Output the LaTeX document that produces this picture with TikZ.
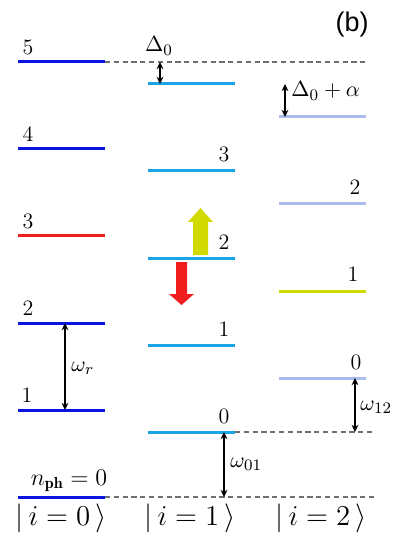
\documentclass[tikz,border=0pt]{standalone}
\usepackage{fontspec}
\newfontfamily\labfont{Liberation Sans}
\usetikzlibrary{arrows.meta}
\definecolor{dblue}{RGB}{10,20,225}
\definecolor{lblue}{RGB}{25,165,230}
\definecolor{lav}{RGB}{170,188,238}
\definecolor{lred}{RGB}{240,30,30}
\definecolor{lyel}{RGB}{208,218,0}
\definecolor{dgrey}{RGB}{110,110,110}
\tikzset{
  level/.style={line width=1.5pt},
  guide/.style={dgrey,line width=0.8pt,dash pattern=on 2.6pt off 1.8pt},
  gap/.style={{Stealth[length=3.6pt,width=3.4pt]}-{Stealth[length=3.6pt,width=3.4pt]},line width=0.55pt},
  num/.style={font=\fontsize{11}{13}\selectfont,inner sep=0pt},
  ket/.style={font=\fontsize{15}{17}\selectfont,inner sep=0pt},
}
\begin{document}
\begin{tikzpicture}[x=0.5pt,y=-0.5pt]
\useasboundingbox (0,0) rectangle (394,539);
% column 0
\foreach \k/\y/\c in {0/497/dblue,1/410/dblue,2/323/dblue,3/236/lred,4/149/dblue,5/62/dblue}{
  \coordinate (a\k L) at (18,\y); \coordinate (a\k R) at (105,\y);
  \draw[level,\c] (a\k L) -- (a\k R);
}
% column 1
\foreach \k/\y in {0/432,1/345,2/258,3/171,4/84}{
  \coordinate (b\k L) at (148,\y); \coordinate (b\k R) at (235,\y);
  \draw[level,lblue] (b\k L) -- (b\k R);
}
% column 2
\foreach \k/\y/\c in {0/378/lav,1/291/lyel,2/204/lav,3/117/lav}{
  \coordinate (c\k L) at (279,\y); \coordinate (c\k R) at (366,\y);
  \draw[level,\c] (c\k L) -- (c\k R);
}
% dashed guides
\coordinate (g5) at (367,62);
\coordinate (g1) at (375,432);
\coordinate (g0) at (377,497);
\draw[guide] (a5R) -- (g5);
\draw[guide] (b0R) -- (g1);
\draw[guide] (a0R) -- (g0);
% level labels
\node[num] (l5) at (28,47) {5};
\node[num] (l4) at (28,134) {4};
\node[num] (l3) at (28,221) {3};
\node[num] (l2) at (28,308) {2};
\node[num] (l1) at (27,395) {1};
\node[num,font=\fontsize{12}{14}\selectfont] (l0) at (69,481) {$n_{\mathbf{ph}}=0$};
\node[num] (m3) at (224,154) {3};
\node[num] (m2) at (224,242) {2};
\node[num] (m1) at (224,329) {1};
\node[num] (m0) at (224,416) {0};
\node[num] (r2) at (355,187) {2};
\node[num] (r1) at (353,274) {1};
\node[num] (r0) at (356,362) {0};
% gap arrows
\coordinate (wr1) at (65,323); \coordinate (wr2) at (65,410);
\draw[gap] (wr1) -- (wr2);
\node[num,anchor=west] (wrl) at (71,368) {$\omega_r$};
\coordinate (d1) at (160,62); \coordinate (d2) at (160,84);
\draw[gap] (d1) -- (d2);
\node[num] (dl) at (159,46) {$\Delta_0$};
\coordinate (da1) at (285,84); \coordinate (da2) at (285,117);
\draw[gap] (da1) -- (da2);
\node[num,anchor=west] (dal) at (291,91) {$\Delta_0+\alpha$};
\coordinate (w121) at (355,378); \coordinate (w122) at (355,432);
\draw[gap] (w121) -- (w122);
\node[num,anchor=west] (w12l) at (360,407) {$\omega_{12}$};
\coordinate (w011) at (224,432); \coordinate (w012) at (224,497);
\draw[gap] (w011) -- (w012);
\node[num,anchor=west] (w01l) at (230,464) {$\omega_{01}$};
% block arrows
\fill[lyel] (193,255) -- (193,222) -- (188,222) -- (200.5,208) -- (213,222) -- (208,222) -- (208,255) -- cycle;
\fill[lred] (176,262) -- (176,294) -- (169,294) -- (181.5,305) -- (194,294) -- (187,294) -- (187,262) -- cycle;
% kets
\node[ket] (k0) at (61,518) {$|\,i=0\,\rangle$};
\node[ket] (k1) at (190,518) {$|\,i=1\,\rangle$};
\node[ket] (k2) at (321,518) {$|\,i=2\,\rangle$};
% panel label
\node[font=\labfont\fontsize{13.5}{15}\selectfont,inner sep=0pt] (pb) at (352,25) {(b)};
\end{tikzpicture}
\end{document}
